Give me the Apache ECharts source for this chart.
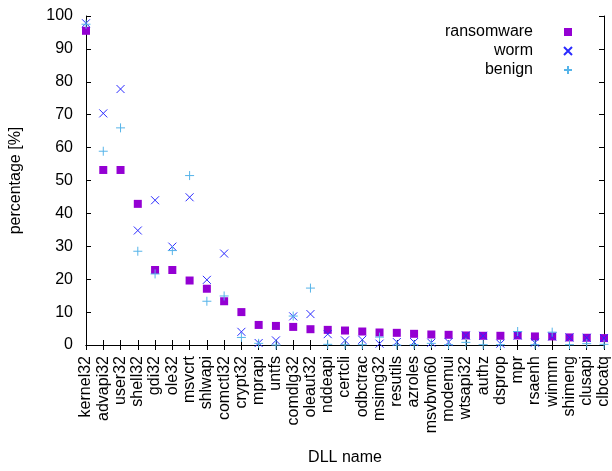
<!DOCTYPE html>
<html>
<head>
<meta charset="utf-8">
<script src="https://cdn.jsdelivr.net/npm/echarts@6/dist/echarts.min.js"></script>
<style>
  html, body { margin: 0; padding: 0; background: #fff; }
  #chart { width: 612px; height: 471px; }
</style>
</head>
<body>
<div id="chart"></div>
<script>
// DLL names along the x axis
const dllNames = [
  'kernel32', 'advapi32', 'user32', 'shell32', 'gdi32', 'ole32', 'msvcrt', 'shlwapi',
  'comctl32', 'crypt32', 'mprapi', 'untfs', 'comdlg32', 'oleaut32', 'nddeapi', 'certcli',
  'odbctrac', 'msimg32', 'resutils', 'azroles', 'msvbvm60', 'modemui', 'wtsapi32', 'authz',
  'dsprop', 'mpr', 'rsaenh', 'winmm', 'shimeng', 'clusapi', 'clbcatq'
]

// percentage of samples importing each DLL
const ransomware = [
  95.5, 53.2, 53.2, 42.9, 22.8, 22.8, 19.6, 17.1, 13.3, 10.0, 6.1, 5.8, 5.5, 4.8, 4.6, 4.4,
  4.1, 3.8, 3.7, 3.4, 3.2, 3.1, 2.9, 2.8, 2.8, 2.9, 2.6, 2.6, 2.3, 2.2, 2.1
]
const worm = [
  97.8, 70.4, 77.8, 34.8, 44.0, 29.9, 44.9, 19.8, 27.8, 4.0, 0.6, 1.4, 8.7, 9.4, 3.3, 1.4,
  1.6, 0.4, 0.9, 0.9, 0.7, 0.9, 2.9, 2.8, 0.4, 2.9, 0.7, 2.6, 2.3, 2.2, 2.1
]
const benign = [
  97.5, 58.9, 66.0, 28.5, 21.6, 28.7, 51.5, 13.3, 14.9, 2.3, 0.5, 0.0, 8.8, 17.3, 0.2, 0.1,
  0.1, 2.4, 0.0, 0.1, 0.5, 0.1, 0.8, 0.1, 0.1, 4.1, 0.1, 3.9, 0.1, 0.4, 0.2
]

const yTicks = [0, 10, 20, 30, 40, 50, 60, 70, 80, 90, 100]

const FONT = '"Liberation Sans", Arial, sans-serif'
const crossPath = 'path://M0,0L10,10M10,0L0,10'
const plusPath = 'path://M5,0L5,10M0,5L10,5'

const chart = echarts.init(document.getElementById('chart'))

const option = {
  animation: false,
  textStyle: { fontFamily: FONT, color: '#000' },
  grid: { left: 86, right: 1, top: 16, bottom: 118 },
  legend: {
    orient: 'vertical',
    right: 34,
    top: 19,
    align: 'right',
    itemWidth: 8,
    itemHeight: 8,
    itemGap: 3,
    data: ['ransomware', 'worm', 'benign'],
    textStyle: { fontSize: 16, fontFamily: FONT, color: '#000', lineHeight: 16, padding: [0, 26, 0, 0] }
  },
  xAxis: [
    {
      type: 'category',
      data: dllNames,
      boundaryGap: false,
      name: 'DLL name',
      nameLocation: 'middle',
      nameGap: 105,
      nameTextStyle: { fontSize: 16, fontFamily: FONT, color: '#000' },
      axisLine: { lineStyle: { color: '#000', width: 1 } },
      axisTick: { inside: true, length: 5, interval: 0, lineStyle: { color: '#000' } },
      axisLabel: { interval: 0, rotate: 90, margin: 11, fontSize: 16, fontFamily: FONT, color: '#000' },
      splitLine: { show: false }
    },
    {
      type: 'category',
      data: dllNames,
      boundaryGap: false,
      position: 'top',
      axisLine: { lineStyle: { color: '#000', width: 1 } },
      axisTick: { inside: true, length: 5, interval: 0, lineStyle: { color: '#000' } },
      axisLabel: { show: false },
      splitLine: { show: false }
    }
  ],
  yAxis: [
    {
      type: 'value',
      min: yTicks[0],
      max: yTicks[yTicks.length - 1],
      interval: 10,
      name: 'percentage [%]',
      nameLocation: 'middle',
      nameGap: 62,
      nameTextStyle: { fontSize: 16, fontFamily: FONT, color: '#000' },
      axisLine: { show: true, lineStyle: { color: '#000', width: 1 } },
      axisTick: { show: true, inside: true, length: 5, lineStyle: { color: '#000' } },
      axisLabel: { margin: 13, fontSize: 16, fontFamily: FONT, color: '#000' },
      splitLine: { show: false }
    },
    {
      type: 'value',
      min: yTicks[0],
      max: yTicks[yTicks.length - 1],
      interval: 10,
      position: 'right',
      axisLine: { show: true, lineStyle: { color: '#000', width: 1 } },
      axisTick: { show: true, inside: true, length: 5, lineStyle: { color: '#000' } },
      axisLabel: { show: false },
      splitLine: { show: false }
    }
  ],
  series: [
    {
      name: 'ransomware',
      type: 'scatter',
      data: ransomware,
      symbol: 'rect',
      symbolSize: 8,
      itemStyle: { color: '#9400D3', opacity: 1 }
    },
    {
      name: 'worm',
      type: 'scatter',
      data: worm,
      symbol: crossPath,
      symbolSize: 8,
      itemStyle: { color: '#2a2aff', borderColor: '#2a2aff', borderWidth: 1, opacity: 1 }
    },
    {
      name: 'benign',
      type: 'scatter',
      data: benign,
      symbol: plusPath,
      symbolSize: 9,
      itemStyle: { color: '#56B4E9', borderColor: '#56B4E9', borderWidth: 1, opacity: 1 }
    }
  ]
}

chart.setOption(option)
</script>
</body>
</html>
